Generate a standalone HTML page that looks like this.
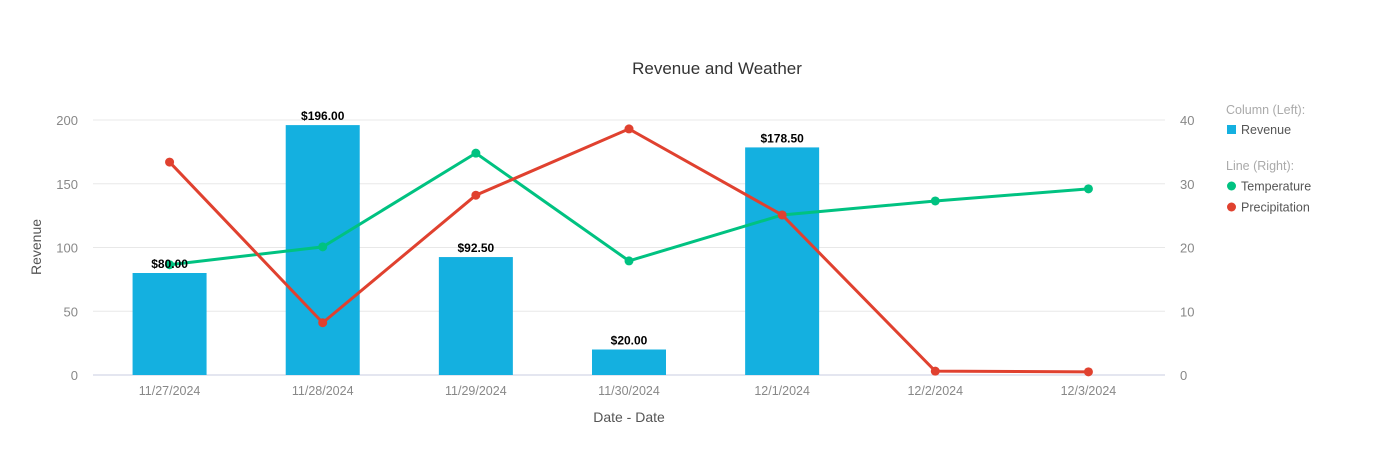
<!DOCTYPE html>
<html><head><meta charset="utf-8"><style>
body{margin:0;background:#fff;width:1400px;height:445px;overflow:hidden;font-family:"Liberation Sans",sans-serif}
</style></head><body>
<svg id="chart" width="1400" height="445" xmlns="http://www.w3.org/2000/svg"></svg>
<script>
const categories=["11/27/2024","11/28/2024","11/29/2024","11/30/2024","12/1/2024","12/2/2024","12/3/2024"];
const revenue=[80,196,92.5,20,178.5,null,null];
const temperature=[17.3,20.1,34.8,17.9,25.1,27.3,29.2];
const precipitation=[33.4,8.2,28.2,38.6,25.1,0.6,0.5];
const leftTicks=[0,50,100,150,200];
const rightTicks=[0,10,20,30,40];

const svg=document.getElementById('chart');
const NS='http://www.w3.org/2000/svg';
const X0=93,X1=1165,Y0=375,Y1=120;
const band=(X1-X0)/categories.length;
const xC=i=>X0+band*(i+0.5);
const yL=v=>Y0-(v/200)*(Y0-Y1);
const yR=v=>Y0-(v/40)*(Y0-Y1);
function el(tag,attrs,txt){const e=document.createElementNS(NS,tag);for(const k in attrs)e.setAttribute(k,attrs[k]);if(txt!==undefined)e.textContent=txt;svg.appendChild(e);return e;}

let t=el('text',{x:717,y:74,'text-anchor':'middle','font-size':17,fill:'#333'},'Revenue and Weather');



leftTicks.forEach(v=>{
  const g=el('line',{x1:X0,x2:X1,y1:yL(v),y2:yL(v),stroke:v===0?'#c8cde0':'#e8e8e8','stroke-width':1});
  
  
  const l=el('text',{x:78,y:yL(v)+5,'text-anchor':'end','font-size':13,fill:'#888'},v);
  
  
});
rightTicks.forEach(v=>{
  const l=el('text',{x:1180,y:yR(v)+5,'text-anchor':'start','font-size':13,fill:'#888'},v);
  
  
});
t=el('text',{x:0,y:0,transform:'translate(41,247) rotate(-90)','text-anchor':'middle','font-size':14,fill:'#555'},'Revenue');


t=el('text',{x:629,y:422,'text-anchor':'middle','font-size':14,fill:'#555'},'Date - Date');



categories.forEach((c,i)=>{
  const l=el('text',{x:xC(i),y:395,'text-anchor':'middle','font-size':12.5,fill:'#888'},c);
  
  
  if(revenue[i]!=null){
    const b=el('rect',{x:xC(i)-37,y:yL(revenue[i]),width:74,height:Y0-yL(revenue[i]),fill:'#14b0e0'});
    
    
  }
});
function line(data,color,name){
  const p=el('polyline',{points:data.map((v,i)=>xC(i)+','+yR(v)).join(' '),fill:'none',stroke:color,'stroke-width':3});
  
  
  data.forEach((v,i)=>{
    const c=el('circle',{cx:xC(i),cy:yR(v),r:4.5,fill:color});
    
    
  });
}
line(temperature,'#00c281','temperature');
line(precipitation,'#e0412f','precipitation');
categories.forEach((c,i)=>{
  if(revenue[i]!=null){
    const l=el('text',{x:xC(i),y:yL(revenue[i])-5,'text-anchor':'middle','font-size':12,'font-weight':'bold',fill:'#000'},'$'+revenue[i].toFixed(2));
    
    
  }
});
// legend
t=el('text',{x:1226,y:114,'font-size':12.5,fill:'#aaa'},'Column (Left):');


let r=el('rect',{x:1227,y:125,width:9,height:9,fill:'#14b0e0'});


t=el('text',{x:1241,y:134,'font-size':12.5,fill:'#555'},'Revenue');


t=el('text',{x:1226,y:170,'font-size':12.5,fill:'#aaa'},'Line (Right):');


[['Temperature','#00c281',186],['Precipitation','#e0412f',207]].forEach(([n,c,y])=>{
  const d=el('circle',{cx:1231.5,cy:y,r:4.5,fill:c});
  
  
  const l=el('text',{x:1241,y:y+4.5,'font-size':12.5,fill:'#555'},n);
  
  
});
</script>
</body></html>
